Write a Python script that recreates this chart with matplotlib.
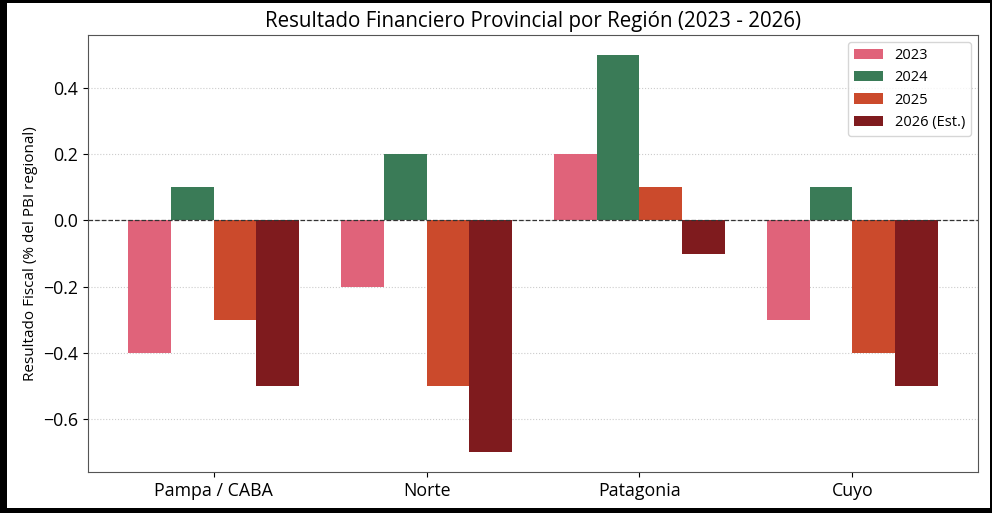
import matplotlib
matplotlib.use("Agg")
import matplotlib.pyplot as plt
import numpy as np
from matplotlib.patches import Rectangle

regions = ["Pampa / CABA", "Norte", "Patagonia", "Cuyo"]
series_names = ["2023", "2024", "2025", "2026 (Est.)"]
v2023 = [-0.4, -0.2, 0.2, -0.3]
v2024 = [0.1, 0.2, 0.5, 0.1]
v2025 = [-0.3, -0.5, 0.1, -0.4]
v2026 = [-0.5, -0.7, -0.1, -0.5]
colors = ["#E0637A", "#3A7B57", "#CB4A2C", "#7F1B1E"]

plt.rcParams['font.family'] = ['Open Sans', 'DejaVu Sans']

fig = plt.figure(figsize=(9.92, 5.13), dpi=100)
fig.patch.set_facecolor("black")
fig.patches.append(Rectangle((7/992, 5/513), (990-7)/992, (510-5)/513,
                             transform=fig.transFigure, facecolor="white",
                             edgecolor="none", zorder=-10))
ax = fig.add_axes([88/992, 1-472/513, (978-88)/992, (472-35)/513])
ax.set_zorder(5)

x = np.arange(len(regions))
w = 0.2
data = [v2023, v2024, v2025, v2026]
for i, (vals, name, c) in enumerate(zip(data, series_names, colors)):
    ax.bar(x + (i - 1.5) * w, vals, w, label=name, color=c, zorder=3)

ax.axhline(0, color="#333333", linestyle="--", linewidth=0.9, zorder=4)
ax.grid(axis="y", linestyle=":", color="#cccccc", linewidth=0.8, zorder=0)
ax.set_xticks(x)
ax.set_xticklabels(regions, fontsize=12.8)
ax.tick_params(axis="y", labelsize=12.8)
ax.set_ylabel("Resultado Fiscal (% del PBI regional)", fontsize=11)
ax.set_title("Resultado Financiero Provincial por Región (2023 - 2026)", fontsize=14.8)
for s in ax.spines.values():
    s.set_color("#555555")
ax.legend(loc="upper right", fontsize=10.5)

fig.savefig("out.png", dpi=100, facecolor=fig.get_facecolor())
